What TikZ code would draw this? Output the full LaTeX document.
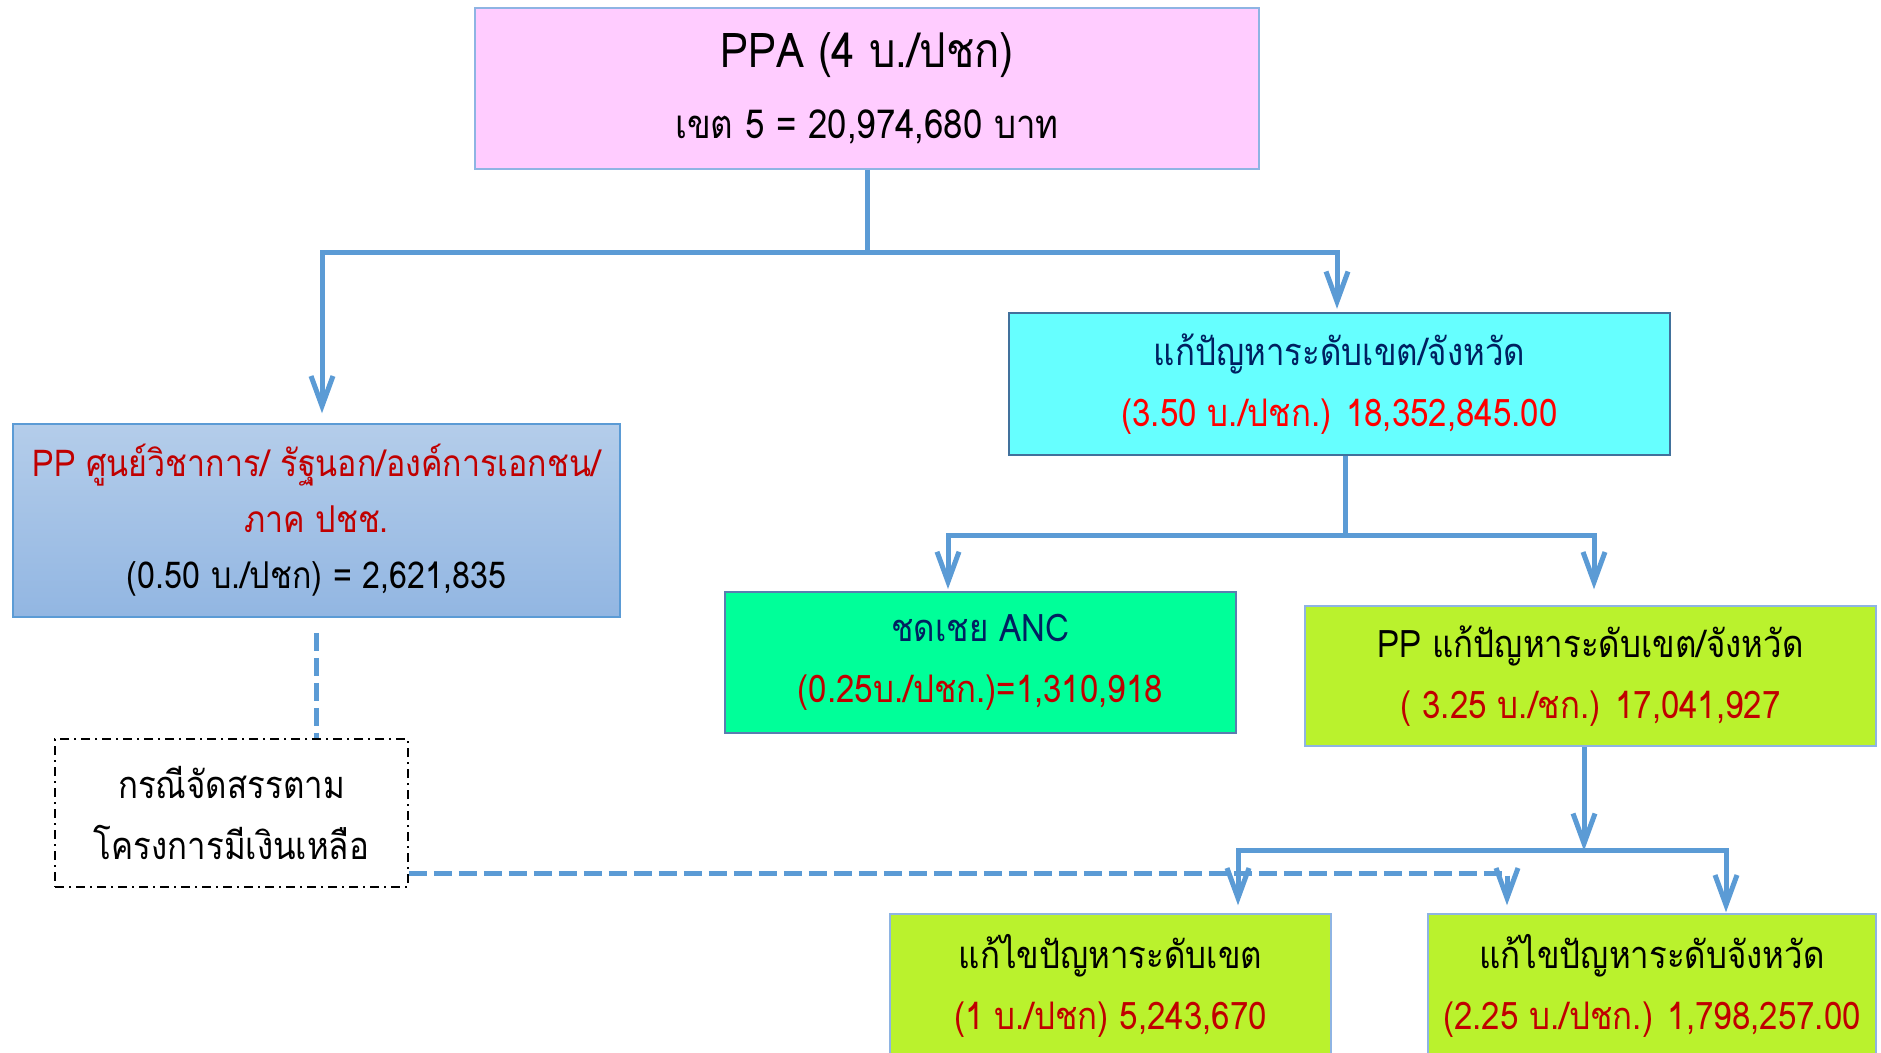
\documentclass[tikz,border=0pt]{standalone}
\usepackage{fontspec}
\newfontfamily\thaifont[Script=Thai, FakeStretch=0.87]{Loma}
\usetikzlibrary{arrows.meta}
\usetikzlibrary{positioning}

\definecolor{linkblue}{RGB}{91,155,213}
\definecolor{ppapink}{RGB}{255,204,255}
\definecolor{edgeblue}{RGB}{142,180,227}
\definecolor{boxtop}{RGB}{180,205,234}
\definecolor{boxbot}{RGB}{146,182,226}
\definecolor{cyanfill}{RGB}{102,255,255}
\definecolor{darkedge}{RGB}{65,113,156}
\definecolor{ancedge}{RGB}{90,125,176}
\definecolor{ancgreen}{RGB}{0,255,153}
\definecolor{limefill}{RGB}{186,242,45}
\definecolor{navytext}{RGB}{0,32,96}
\definecolor{darkred}{RGB}{192,0,0}

\tikzset{
  box/.style={rectangle, align=center, inner sep=0pt, line width=1.5pt,
    font=\thaifont\fontsize{38}{61}\selectfont},
  link/.style={draw=linkblue, line width=5pt},
  dashlink/.style={link, dash pattern=on 18pt off 7pt},
}

\begin{document}
\begin{tikzpicture}[x=1pt, y=-1pt, >={Straight Barb[length=30pt,width=22pt]}]
    \useasboundingbox (0,0) rectangle (1881,1052);
    \clip (0,0) rectangle (1881,1052);

    % Nodes

    \node[box, draw=edgeblue, fill=ppapink, minimum width=784pt, minimum height=161pt,
          font=\thaifont\fontsize{40}{71}\selectfont]
        (ppa) at (867,88.5) {{\fontsize{48}{71}\selectfont PPA (4 บ./ปชก)}\\ เขต 5 = 20,974,680 บาท}; %
    \node[box, draw=linkblue, top color=boxtop, bottom color=boxbot,
          minimum width=607pt, minimum height=193pt,
          font=\thaifont\fontsize{37}{56}\selectfont]
        (lbox) at (316.5,520.5) {\textcolor{darkred}{PP ศูนย์วิชาการ/ รัฐนอก/องค์การเอกชน/}\\
          \textcolor{darkred}{ภาค ปชช.}\\ (0.50 บ./ปชก) = 2,621,835}; %
    \node[box, draw=darkedge, line width=2.5pt, fill=cyanfill, minimum width=661pt, minimum height=142pt]
        (cbox) at (1339.5,384) {\textcolor{navytext}{แก้ปัญหาระดับเขต/จังหวัด}\\
          \textcolor{red}{(3.50 บ./ปชก.) 18,352,845.00}}; %
    \node[box, draw=ancedge, line width=2pt, fill=ancgreen, minimum width=511pt, minimum height=141pt]
        (anc) at (980.5,662.5) {\textcolor{navytext}{ชดเชย ANC}\\
          \textcolor{darkred}{(0.25บ./ปชก.)=1,310,918}}; %
    \node[box, draw=edgeblue, fill=limefill, minimum width=571pt, minimum height=140pt]
        (plime) at (1590.5,676) {PP แก้ปัญหาระดับเขต/จังหวัด\\
          \textcolor{darkred}{( 3.25 บ./ชก.) 17,041,927}}; %

    % More nodes
    \node[box, draw, dash pattern=on 9pt off 5pt on 2pt off 5pt, minimum width=353pt, minimum height=148pt]
        (spare) at (231.5,813) {กรณีจัดสรรตาม\\ โครงการมีเงินเหลือ}; %
    \node[box, draw=edgeblue, fill=limefill, minimum width=441pt, minimum height=144pt]
        (dleft) at (1110.5,986) {แก้ไขปัญหาระดับเขต\\
          \textcolor{darkred}{(1 บ./ปชก) 5,243,670}}; %
    \node[box, draw=edgeblue, fill=limefill, minimum width=448pt, minimum height=144pt]
        (dright) at (1652,986) {แก้ไขปัญหาระดับจังหวัด\\
          \textcolor{darkred}{(2.25 บ./ปชก.) 1,798,257.00}}; %

    % Connectors
    \draw[link] (ppa.south) -- ++(0,83) coordinate (split1);
    \draw[link, ->, shorten >=10pt] (split1) -| ([xshift=5.5pt]lbox.north);
    \draw[link, ->, shorten >=3pt] (split1) -| ([xshift=-2.5pt]cbox.north);

    \draw[link] ([xshift=5.5pt]cbox.south) -- ++(0,79) coordinate (split2);
    \draw[link, ->, shorten >=2pt] (split2) -| ([xshift=-32.5pt]anc.north);
    \draw[link, ->, shorten >=16pt] (split2) -| ([xshift=3.5pt]plime.north);

    \draw[link, ->] ([xshift=-6.5pt]plime.south) -- ++(0,104) coordinate (split3);
    \draw[link, ->, shorten >=8pt] (split3) -| ([xshift=127.5pt]dleft.north);
    \draw[link, ->, shorten >=1pt] (split3) -| ([xshift=74pt]dright.north);

    % spare money path
    \coordinate (spareout) at ([yshift=14pt]spare.south east);
    \draw[dashlink, shorten <=15pt] (lbox.south) -- (lbox.south |- spare.north);
    \draw[dashlink, ->, shorten >=8pt] (spareout) -| ([xshift=-145pt]dright.north);

\end{tikzpicture}
\end{document}
